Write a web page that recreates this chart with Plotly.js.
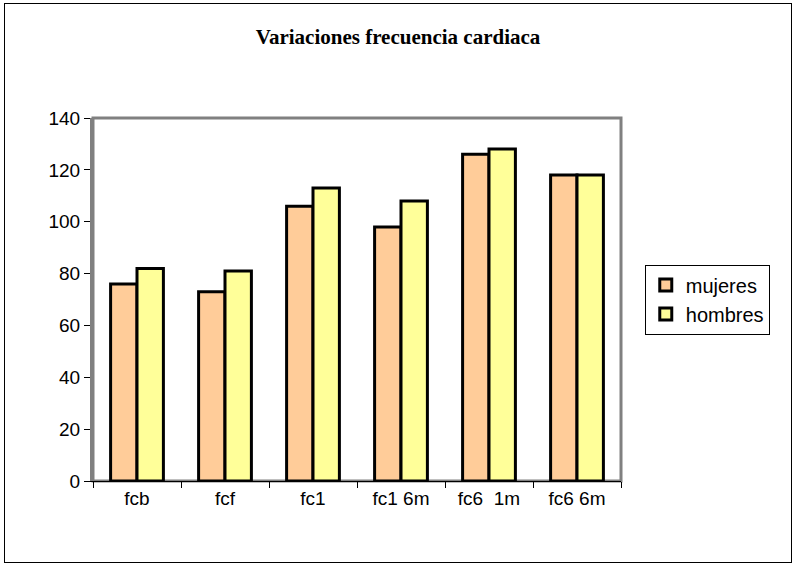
<!DOCTYPE html>
<html>
<head>
<meta charset="utf-8">
<script src="https://cdn.plot.ly/plotly-3.0.1.min.js"></script>
<style>
body { margin: 0; background: #fff; }
#chart { width: 796px; height: 567px; }
#frame { position: absolute; left: 4px; top: 3px; width: 786px; height: 558px; border: 1px solid #000; pointer-events: none; }
</style>
</head>
<body>
<div id="chart"></div>
<div id="frame"></div>
<script>
var categories = ['fcb', 'fcf', 'fc1', 'fc1 6m', 'fc6  1m', 'fc6 6m'];
var mujeres = [76, 73, 106, 98, 126, 118];
var hombres = [82, 81, 113, 108, 128, 118];

var trace1 = {
  x: categories,
  y: mujeres,
  name: 'mujeres',
  type: 'bar',
  marker: { color: '#FFCC99', line: { color: '#000', width: 3 } }
};

var trace2 = {
  x: categories,
  y: hombres,
  name: 'hombres',
  type: 'bar',
  marker: { color: '#FFFF99', line: { color: '#000', width: 3 } }
};

var layout = {
  barmode: 'group',
  bargap: 0.4,
  bargroupgap: 0,
  margin: { l: 93, r: 175, t: 118, b: 86 },
  paper_bgcolor: '#fff',
  plot_bgcolor: '#fff',
  font: { family: 'Liberation Sans, Arial, sans-serif', size: 19, color: '#000' },
  title: {
    text: '<b>Variaciones frecuencia cardiaca</b>',
    font: { family: 'Liberation Serif, Times New Roman, serif', size: 21 },
    x: 0.5, xanchor: 'center', y: 0.935, yanchor: 'middle'
  },
  xaxis: {
    showline: true, linecolor: '#000', linewidth: 1,
    ticks: 'outside', ticklen: 6, tickcolor: '#000',
    tickson: 'boundaries', showgrid: false, mirror: false
  },
  yaxis: {
    range: [0, 140], dtick: 20,
    showline: true, linecolor: '#808080', linewidth: 3,
    ticks: 'outside', ticklen: 6, tickcolor: '#000',
    showgrid: false, zeroline: false
  },
  shapes: [{
    type: 'rect', xref: 'paper', yref: 'paper', x0: 0, x1: 1, y0: 0, y1: 1,
    line: { color: '#808080', width: 3 }, layer: 'below'
  }],
  legend: {
    x: 1.045, y: 0.5, xanchor: 'left', yanchor: 'middle',
    bordercolor: '#000', borderwidth: 1,
    font: { size: 20 }, tracegroupgap: 4
  }
};

Plotly.newPlot('chart', [trace1, trace2], layout, { displayModeBar: false });
</script>
</body>
</html>
